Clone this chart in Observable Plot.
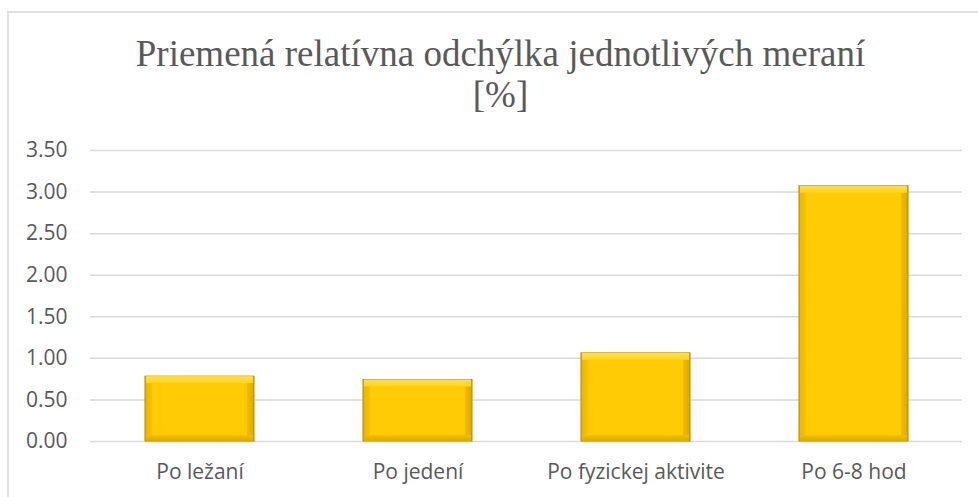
<!DOCTYPE html>
<html>
<head>
<meta charset="utf-8">
<script src="https://cdn.jsdelivr.net/npm/d3@7"></script>
<script src="https://cdn.jsdelivr.net/npm/@observablehq/plot@0.6"></script>
<style>
  html, body { margin: 0; padding: 0; background: #fff; width: 978px; height: 497px; overflow: hidden; }
  #frame { position: absolute; left: 7px; top: 11px; width: 1000px; height: 520px; border: 2px solid #e0e0e0; box-sizing: border-box; }
  #title { position: absolute; left: 0; top: 33px; width: 1001px; text-align: center; font-family: "Liberation Serif", "DejaVu Serif", serif; font-size: 37px; line-height: 41px; color: #595959; white-space: nowrap; }
  #chart { position: absolute; left: 0; top: 130px; }
</style>
</head>
<body>
<div id="frame"></div>
<div id="title">Priemená relatívna odchýlka jednotlivých meraní<br>[%]</div>
<div id="chart"></div>
<script>
const categories = ["Po ležaní", "Po jedení", "Po fyzickej aktivite", "Po 6-8 hod"];
const values = [0.78, 0.74, 1.06, 3.07];
const yTicks = [0, 0.5, 1, 1.5, 2, 2.5, 3, 3.5];

const data = categories.map((c, i) => ({cat: categories[i], v: values[i]}));

const defs = () => {
  const ns = "http://www.w3.org/2000/svg";
  const d = document.createElementNS(ns, "defs");
  d.innerHTML = `
    <linearGradient id="gh" x1="0" x2="1" y1="0" y2="0">
      <stop offset="0" stop-color="#E8B400"/>
      <stop offset="0.06" stop-color="#F5C300"/>
      <stop offset="0.065" stop-color="#FFCB05"/>
      <stop offset="0.935" stop-color="#FFCB05"/>
      <stop offset="0.94" stop-color="#EFBA00"/>
      <stop offset="1" stop-color="#DDA900"/>
    </linearGradient>
    <linearGradient id="gt" x1="0" x2="0" y1="0" y2="1">
      <stop offset="0" stop-color="#FFE04E"/>
      <stop offset="1" stop-color="#FFD21E"/>
    </linearGradient>
    <linearGradient id="gb" x1="0" x2="0" y1="0" y2="1">
      <stop offset="0" stop-color="#F3BF00"/>
      <stop offset="1" stop-color="#DCA800"/>
    </linearGradient>`;
  return d;
};

const fontFamily = "'Open Sans', 'Liberation Sans', sans-serif";

const plot = Plot.plot({
  width: 978,
  height: 367,
  marginLeft: 90,
  marginRight: 16,
  marginTop: 20,
  marginBottom: 56,
  style: {fontFamily, color: "#595959", background: "transparent"},
  x: {domain: categories, paddingInner: 0.5, paddingOuter: 0.25},
  y: {domain: [0, 3.5]},
  marks: [
    defs,
    Plot.ruleY(yTicks, {stroke: "#d9d9d9", strokeWidth: 1.5}),
    Plot.barY(data, {x: "cat", y: "v", fill: "url(#gh)", stroke: "#B08C00", strokeWidth: 1}),
    Plot.barY(data, {x: "cat", y1: "v", y2: "v", insetBottom: -7, insetLeft: 1, insetRight: 1, fill: "url(#gt)"}),
    Plot.barY(data, {x: "cat", y1: 0, y2: 0, insetTop: -6, insetLeft: 1, insetRight: 1, fill: "url(#gb)"}),
    Plot.axisY({ticks: yTicks, tickFormat: d3.format(".2f"), label: null, tickSize: 0, tickPadding: 23, fontSize: 21, fill: "#595959"}),
    Plot.axisX({label: null, tickSize: 0, tickPadding: 23, fontSize: 21, fill: "#595959"})
  ]
});
document.getElementById("chart").appendChild(plot);
</script>
</body>
</html>
